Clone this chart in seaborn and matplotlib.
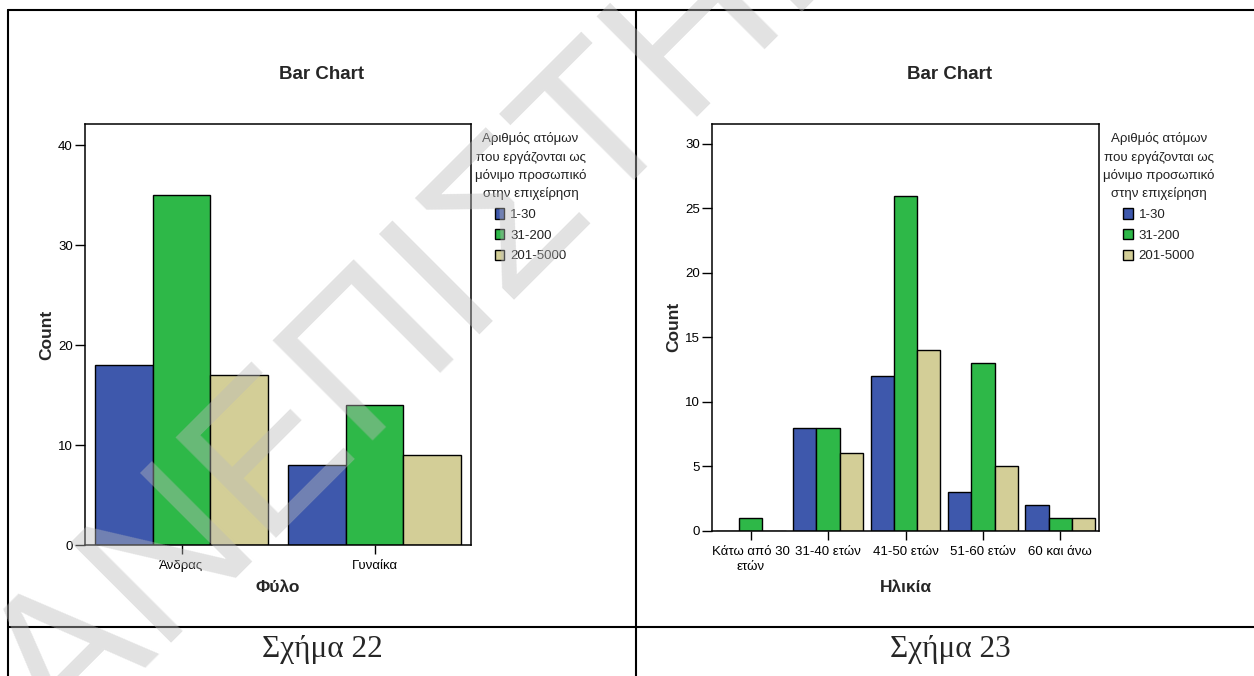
import matplotlib
matplotlib.use("Agg")
import matplotlib.pyplot as plt
import seaborn as sns
import pandas as pd
from matplotlib.lines import Line2D

# ---------------- data ----------------
sex_categories = ["Άνδρας", "Γυναίκα"]
age_categories = ["Κάτω από 30\nετών", "31-40 ετών", "41-50 ετών", "51-60 ετών", "60 και άνω"]
size_groups = ["1-30", "31-200", "201-5000"]

sex_1_30 = [18, 8]
sex_31_200 = [35, 14]
sex_201_5000 = [17, 9]

age_1_30 = [0, 8, 12, 3, 2]
age_31_200 = [1, 8, 26, 13, 1]
age_201_5000 = [0, 6, 14, 5, 1]

sex_yticks = [0, 10, 20, 30, 40]
age_yticks = [0, 5, 10, 15, 20, 25, 30]

chart_title = "Bar Chart"
y_label = "Count"
sex_xlabel = "Φύλο"
age_xlabel = "Ηλικία"
legend_title = "Αριθμός ατόμων\nπου εργάζονται ως\nμόνιμο προσωπικό\nστην επιχείρηση"
captions = ["Σχήμα 22", "Σχήμα 23"]
watermark = "ΑΝΕΠΙΣΤΗΜΙΟ"

colors = ["#3E58AC", "#2EB848", "#D3CE97"]

# ---------------- style ----------------
sns.set_style("white")
plt.rcParams["font.family"] = ["Liberation Sans", "DejaVu Sans"]

W, H = 1254, 676
fig = plt.figure(figsize=(W / 100, H / 100), dpi=100)
fig.patch.set_facecolor("white")


def fx(px):
    return px / W


def fy(py):
    return 1 - py / H


def long_df(cats, series):
    rows = []
    for g, vals in zip(size_groups, series):
        for c, v in zip(cats, vals):
            rows.append({"cat": c, "count": v, "size": g})
    return pd.DataFrame(rows)


def draw(ax, cats, series, yticks, ylim, xlabel, xlab_y, legend_x):
    df = long_df(cats, series)
    sns.barplot(data=df, x="cat", y="count", hue="size", order=cats,
                hue_order=size_groups, palette=colors, saturation=1,
                width=0.9, edgecolor="black", linewidth=1.0, ax=ax)
    ax.set_xlim(-0.5, len(cats) - 0.5)
    ax.set_ylim(*ylim)
    ax.set_yticks(yticks)
    ax.tick_params(axis="y", direction="out", length=7.2, width=1.0,
                   pad=1.5, labelsize=9.5, colors="black", left=True)
    ax.tick_params(axis="x", direction="out", length=6.5, width=1.0,
                   pad=4.5, labelsize=9.5, colors="black", bottom=True)
    for lab in ax.get_xticklabels():
        lab.set_linespacing(1.3)
    for s in ax.spines.values():
        s.set_color("black")
        s.set_linewidth(1.1)
    ax.set_xlabel(xlabel, fontsize=12.5, fontweight="bold")
    ax.set_ylabel(y_label, fontsize=12.5, fontweight="bold")
    ax.xaxis.set_label_coords(0.5, xlab_y)
    ax.yaxis.set_label_coords(-0.079, 0.5)
    handles, labels = ax.get_legend_handles_labels()
    leg = ax.legend(handles, labels, title=legend_title, loc="upper center",
                    bbox_to_anchor=(fx(legend_x), fy(132)),
                    bbox_transform=fig.transFigure, frameon=False,
                    fontsize=9.5, title_fontsize=9.5, borderpad=0,
                    borderaxespad=0, handlelength=0.72, handleheight=0.8,
                    handletextpad=0.45, labelspacing=0.6)
    leg.get_title().set_linespacing(1.55)
    leg.get_title().set_multialignment("center")
    leg.get_title().set_color("#222222")
    for t in leg.get_texts():
        t.set_color("#222222")
    return ax


ax1 = fig.add_axes([fx(85), fy(545), fx(471) - fx(85), fy(124) - fy(545)])
draw(ax1, sex_categories, [sex_1_30, sex_31_200, sex_201_5000],
     sex_yticks, (0, 42.1), sex_xlabel, -0.082, 530.5)

ax2 = fig.add_axes([fx(712), fy(530.7), fx(1099) - fx(712), fy(124) - fy(530.7)])
draw(ax2, age_categories, [age_1_30, age_31_200, age_201_5000],
     age_yticks, (0, 31.55), age_xlabel, -0.12, 1159)

# titles
fig.text(fx(322), fy(74.5), chart_title, ha="center", va="center",
         fontsize=13.5, fontweight="bold")
fig.text(fx(950), fy(74.5), chart_title, ha="center", va="center",
         fontsize=13.5, fontweight="bold")

# table lines
lw = 1.5
fig.add_artist(Line2D([fx(8), 1], [fy(9.5), fy(9.5)], color="black", lw=lw))
fig.add_artist(Line2D([fx(8), fx(8)], [fy(9.5), 0], color="black", lw=lw))
fig.add_artist(Line2D([fx(636), fx(636)], [fy(9.5), 0], color="black", lw=lw))
fig.add_artist(Line2D([fx(8), 1], [fy(627), fy(627)], color="black", lw=lw))

# captions
fig.text(fx(322), fy(649), captions[0], ha="center", va="center",
         fontsize=22.5, family=["Liberation Serif", "DejaVu Serif"])
fig.text(fx(950), fy(649), captions[1], ha="center", va="center",
         fontsize=22.5, family=["Liberation Serif", "DejaVu Serif"])

# watermark
fig.text(fx(63), fy(751), watermark, rotation=45, rotation_mode="anchor",
         ha="left", va="baseline", fontsize=148, color="#bbbbbb", alpha=0.42,
         zorder=20)

fig.savefig("out.png", dpi=100)
